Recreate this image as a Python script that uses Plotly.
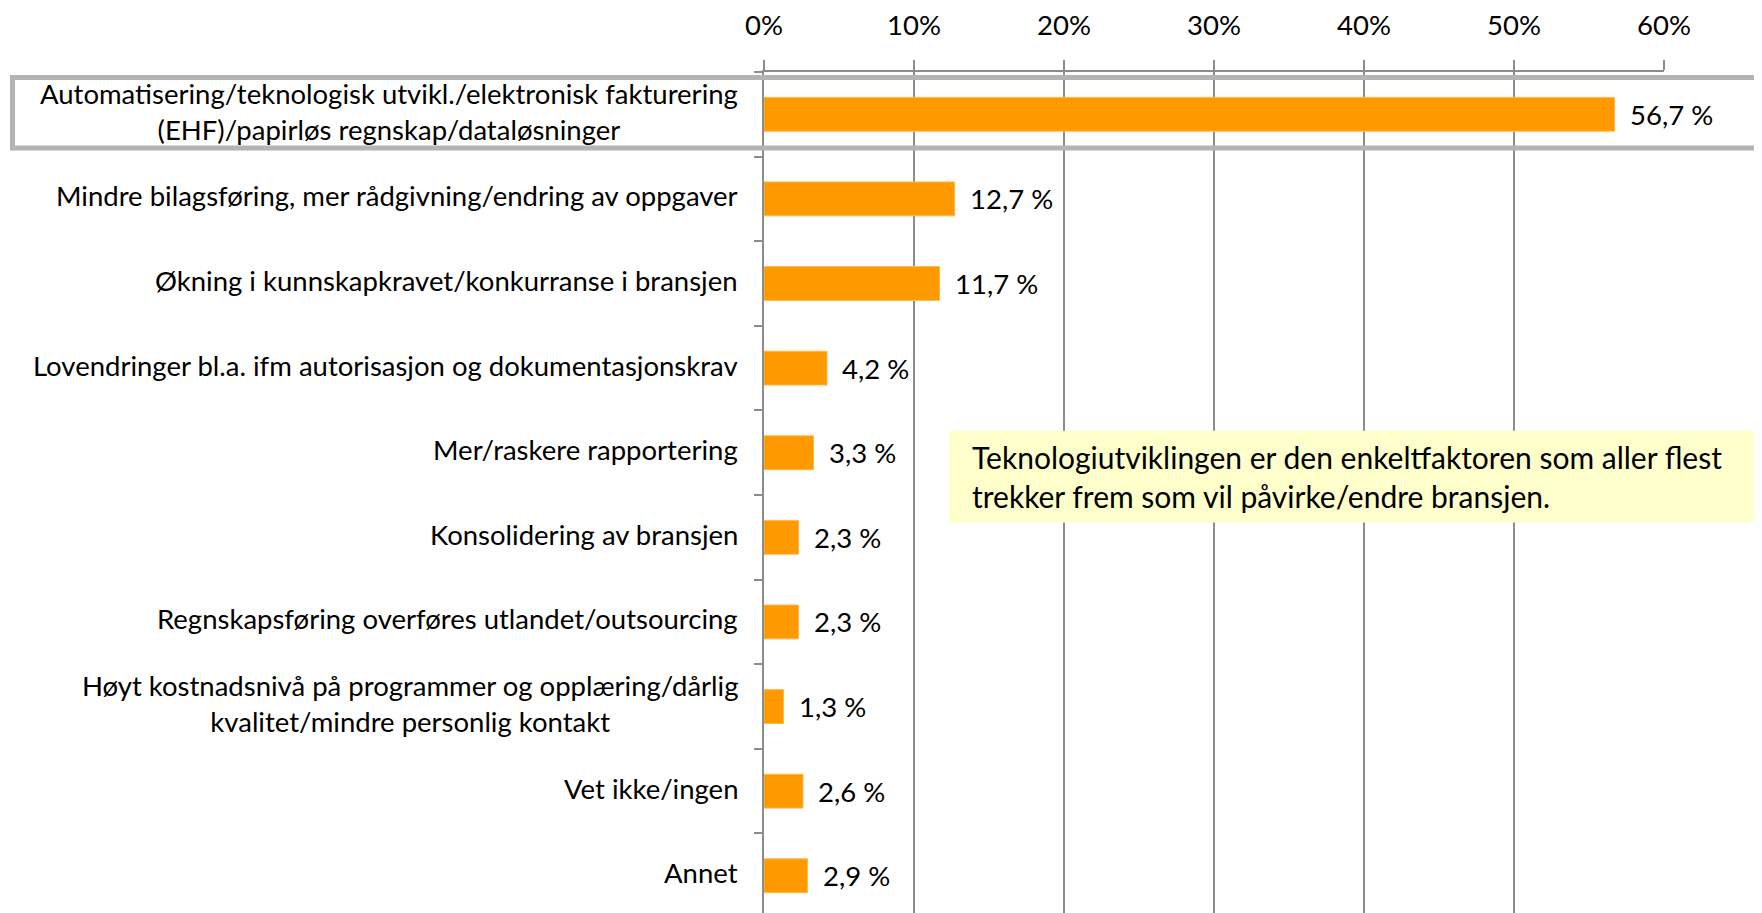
import plotly.graph_objects as go

# Categories, top to bottom
categories = [
    "Automatisering/teknologisk utvikl./elektronisk fakturering<br>(EHF)/papirløs regnskap/dataløsninger",
    "Mindre bilagsføring, mer rådgivning/endring av oppgaver",
    "Økning i kunnskapkravet/konkurranse i bransjen",
    "Lovendringer bl.a. ifm autorisasjon og dokumentasjonskrav",
    "Mer/raskere rapportering",
    "Konsolidering av bransjen",
    "Regnskapsføring overføres utlandet/outsourcing",
    "Høyt kostnadsnivå på programmer og opplæring/dårlig<br>kvalitet/mindre personlig kontakt",
    "Vet ikke/ingen",
    "Annet",
]
values = [56.7, 12.7, 11.7, 4.2, 3.3, 2.3, 2.3, 1.3, 2.6, 2.9]
x_ticks = [0, 10, 20, 30, 40, 50, 60]
note_text = ("Teknologiutviklingen er den enkeltfaktoren som aller flest<br>"
             "trekker frem som vil påvirke/endre bransjen.")

FONT = "Lato, Arial, sans-serif"
BAR_COLOR = "#FF9900"
GRID_COLOR = "#8c8c8c"
TEXT_SIZE = 27.5

fig = go.Figure()

fig.add_trace(go.Bar(
    x=values,
    y=categories,
    orientation="h",
    width=0.4,
    marker=dict(color=BAR_COLOR, line=dict(color="#ffb84d", width=1)),
    hoverinfo="skip",
    showlegend=False,
))

# category labels (centred multi-line text, right edge near the axis)
for cat in categories:
    fig.add_annotation(
        x=0, y=cat, xref="x", yref="y",
        text=cat, showarrow=False,
        xanchor="right", yanchor="middle", align="center",
        xshift=-24, yshift=3,
        font=dict(family=FONT, size=TEXT_SIZE, color="black"),
    )

# value labels
for cat, v in zip(categories, values):
    fig.add_annotation(
        x=v, y=cat, xref="x", yref="y",
        text=f"{v:.1f}".replace(".", ",") + " %",
        showarrow=False, xanchor="left", yanchor="middle",
        xshift=13,
        font=dict(family=FONT, size=TEXT_SIZE, color="black"),
    )

# highlight frame around the first row
fig.add_shape(
    type="rect", xref="paper", yref="paper",
    x0=-0.835, x1=1.2, y0=0.9097, y1=0.9936,
    line=dict(color="#b4b4b4", width=5),
    fillcolor="rgba(0,0,0,0)", layer="above",
)

# yellow comment box
fig.add_shape(
    type="rect", xref="paper", yref="paper",
    x0=0.2056, x1=1.2, y0=0.4642, y1=0.5733,
    line=dict(width=0), fillcolor="#ffffcc", layer="above",
)
fig.add_annotation(
    x=0.2289, y=0.5188, xref="paper", yref="paper",
    text=note_text, showarrow=False,
    xanchor="left", yanchor="middle", align="left",
    font=dict(family=FONT, size=30, color="black"),
)

# the page body has an 8px default margin, so the figure is 8px smaller
fig.update_layout(
    width=1754,
    height=905,
    margin=dict(l=756, r=98, t=52, b=0),
    paper_bgcolor="white",
    plot_bgcolor="white",
    font=dict(family=FONT, size=TEXT_SIZE, color="black"),
    xaxis=dict(
        side="top",
        range=[0, 60],
        tickvals=x_ticks,
        ticktext=[f"{t}%" for t in x_ticks],
        showgrid=True, gridcolor=GRID_COLOR, gridwidth=1.5,
        showline=True, linecolor=GRID_COLOR, linewidth=1.5,
        ticks="outside", ticklen=10, tickcolor=GRID_COLOR, tickwidth=1.5,
        ticklabelposition="outside",
        ticklabelstandoff=14,
        tickfont=dict(family=FONT, size=TEXT_SIZE, color="black"),
        zeroline=False,
        fixedrange=True,
    ),
    yaxis=dict(
        type="category",
        range=[9.44, -0.5],
        showticklabels=False,
        tickson="boundaries",
        ticks="outside", ticklen=8, tickcolor=GRID_COLOR, tickwidth=1.5,
        showline=True, linecolor=GRID_COLOR, linewidth=1.5,
        showgrid=False,
        fixedrange=True,
    ),
)

fig.write_html("out.html")
